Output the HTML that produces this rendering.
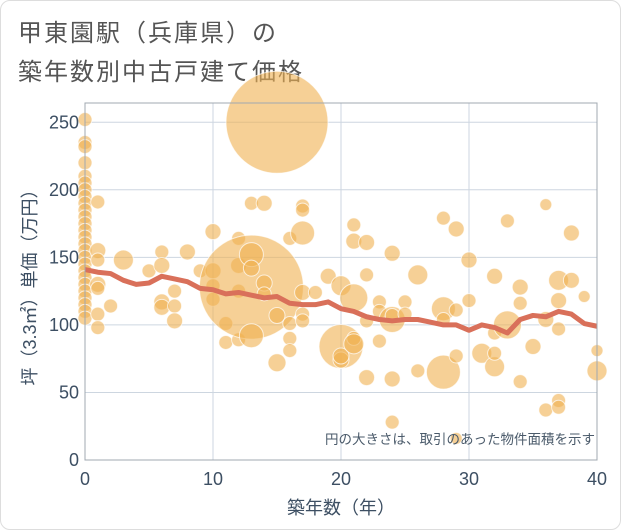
<!DOCTYPE html>
<html><head><meta charset="utf-8"><style>
body{margin:0;background:#fff;font-family:"Liberation Sans","Noto Sans CJK JP",sans-serif;}
#card{position:absolute;left:0;top:0;width:619px;height:528px;border:1px solid #ddd;border-radius:10px;background:#fff;}
</style></head><body>
<div id="card">
<svg id="chart" width="621" height="530" style="position:absolute;left:-1px;top:-1px">
<text x="18" y="41" font-size="24" letter-spacing="2" fill="#555">甲東園駅（兵庫県）の</text>
<text x="18" y="80" font-size="24" letter-spacing="2" fill="#555">築年数別中古戸建て価格</text>
<g id="grid"></g><g id="bubbles"></g><g id="trend"></g><g id="axes"></g>
<text x="595" y="444" font-size="13.5" fill="#4a5a6a" text-anchor="end">円の大きさは、取引のあった物件面積を示す</text>
<text x="341" y="514" font-size="18" fill="#3d4f63" text-anchor="middle">築年数（年）</text>
<text transform="translate(36,283) rotate(-90)" font-size="18" fill="#3d4f63" text-anchor="middle">坪（3.3㎡）単価（万円）</text>
</svg></div>
<script>
const xTicks=[0,10,20,30,40];
const yTicks=[0,50,100,150,200,250];
const trendYears=[0,1,2,3,4,5,6,7,8,9,10,11,12,13,14,15,16,17,18,19,20,21,22,23,24,25,26,27,28,29,30,31,32,33,34,35,36,37,38,39,40];
const trendValues=[141,139,138,133,130,131,136,134,132,127,126,123,124,122,120,121,116,115,115,117,112,110,106,104,103,104,104,102,100,100,96,100,98,94,104,107,106,110,108,101,99];
const bubbleYears=[0,0,0,0,0,0,0,0,0,0,0,0,0,0,0,0,0,0,0,0,0,0,0,0,0,0,1,1,1,1,1,1,1,2,3,5,6,6,6,6,7,7,7,8,9,10,10,10,10,11,11,12,12,12,12,13,15,13,13,13,13,14,14,14,15,15,16,16,16,16,17,17,17,17,17,17,18,19,20,20,20,20,21,21,21,21,21,22,22,22,22,23,23,23,24,24,24,24,24,25,25,26,26,28,28,28,28,29,29,29,29,30,30,31,32,32,32,32,33,33,34,34,34,35,36,36,36,37,37,37,37,37,38,38,39,40,40];
const bubbleValues=[252,235,232,220,210,205,200,195,190,185,180,175,170,165,160,155,150,145,140,135,130,125,120,115,110,105,191,155,148,130,127,108,98,114,148,140,154,144,117,113,125,114,103,154,140,169,140,129,119,87,101,164,144,89,125,128,250,152,142,92,190,190,131,123,72,107,164,90,81,101,188,185,168,124,108,103,124,136,129,84,74,77,174,162,120,90,86,161,137,103,61,117,110,88,153,104,107,60,28,117,108,137,66,179,112,65,104,171,111,77,16,148,118,79,136,94,69,79,177,100,128,116,58,84,189,104,37,133,118,97,44,39,133,168,121,66,81];
const bubbleSizes=[7,7,7,7,7,7,7,7,7,7,7,7,7,7,7,7,7,7,7,7,7,7,7,7,7,7,7,8,7,8,7,7,7,7,10,7,7,8,8,8,7,7,8,8,7,8,8,7,7,7,7,7,8,7,7,52,51,12,8,12,7,8,8,7,9,8,7,7,7,7,7,7,12,8,7,7,7,8,10,22,8,8,7,8,14,7,10,8,7,7,8,7,7,7,8,13,7,8,7,7,7,10,7,7,12,17,7,8,7,7,6,8,7,10,8,7,10,7,7,14,8,7,7,8,6,8,7,10,8,7,7,7,8,8,6,10,6];
const X0=85,X1=597,Y0=460,YT=103;
const xs=v=>X0+(v/40)*(X1-X0);
const ys=v=>Y0-v*1.351;
const NS='http://www.w3.org/2000/svg';
const grid=document.getElementById('grid'),axes=document.getElementById('axes'),bub=document.getElementById('bubbles'),tr=document.getElementById('trend');
xTicks.forEach(t=>{
 const l=document.createElementNS(NS,'line');l.setAttribute('x1',xs(t));l.setAttribute('x2',xs(t));l.setAttribute('y1',YT);l.setAttribute('y2',Y0);l.setAttribute('stroke','#cdd6e0');l.setAttribute('stroke-width','1');
 
 
 grid.appendChild(l);
 const tx=document.createElementNS(NS,'text');tx.setAttribute('x',xs(t));tx.setAttribute('y',485);tx.setAttribute('text-anchor','middle');tx.setAttribute('font-size','18');tx.setAttribute('fill','#3d4f63');tx.textContent=t;
 
 
 axes.appendChild(tx);
});
yTicks.forEach(t=>{
 const l=document.createElementNS(NS,'line');l.setAttribute('x1',X0);l.setAttribute('x2',X1);l.setAttribute('y1',ys(t));l.setAttribute('y2',ys(t));l.setAttribute('stroke','#cdd6e0');l.setAttribute('stroke-width','1');
 
 
 grid.appendChild(l);
 const tx=document.createElementNS(NS,'text');tx.setAttribute('x',79);tx.setAttribute('y',ys(t)+6);tx.setAttribute('text-anchor','end');tx.setAttribute('font-size','18');tx.setAttribute('fill','#3d4f63');tx.textContent=t;
 
 
 axes.appendChild(tx);
});
const fr=document.createElementNS(NS,'rect');fr.setAttribute('x',X0);fr.setAttribute('y',YT);fr.setAttribute('width',X1-X0);fr.setAttribute('height',Y0-YT);fr.setAttribute('fill','none');fr.setAttribute('stroke','#a0a8b0');


axes.appendChild(fr);
bubbleYears.forEach((y,i)=>{
 const c=document.createElementNS(NS,'circle');c.setAttribute('cx',xs(y));c.setAttribute('cy',ys(bubbleValues[i]));c.setAttribute('r',bubbleSizes[i]);
 c.setAttribute('fill','rgba(240,176,80,0.6)');c.setAttribute('stroke','rgba(255,255,255,0.7)');c.setAttribute('stroke-width','1');
 
 
 bub.appendChild(c);
});
const p=document.createElementNS(NS,'polyline');
p.setAttribute('points',trendYears.map((y,i)=>xs(y)+','+ys(trendValues[i])).join(' '));
p.setAttribute('fill','none');p.setAttribute('stroke','#d9705a');p.setAttribute('stroke-width','5');p.setAttribute('stroke-linejoin','round');


tr.appendChild(p);
</script>
</body></html>
